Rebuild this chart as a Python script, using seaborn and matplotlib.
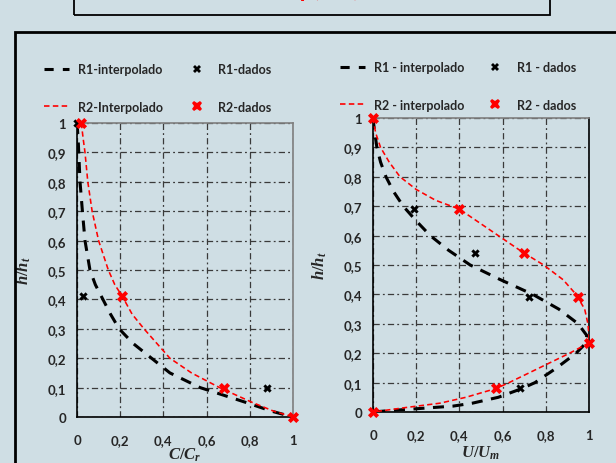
import matplotlib
matplotlib.use("Agg")
import numpy as np
import pandas as pd
import seaborn as sns
import matplotlib.pyplot as plt
from matplotlib.lines import Line2D
from matplotlib.patches import Rectangle
from matplotlib.ticker import FixedLocator, FuncFormatter

# ---------------- data ----------------
# Left panel: concentration profile C/Cr vs h/ht
c_r1_interp_x = [0.0, 0.005, 0.008, 0.014, 0.025, 0.037, 0.06, 0.085, 0.12, 0.155, 0.195, 0.26, 0.345, 0.43, 0.57, 0.78, 0.9, 1.0]
c_r1_interp_h = [1.0, 0.95, 0.9, 0.8, 0.7, 0.6, 0.5, 0.45, 0.4, 0.35, 0.3, 0.25, 0.2, 0.15, 0.1, 0.05, 0.02, 0.0]
c_r2_interp_x = [0.02, 0.028, 0.037, 0.05, 0.07, 0.1, 0.145, 0.175, 0.21, 0.255, 0.31, 0.37, 0.43, 0.53, 0.66, 0.81, 0.91, 1.0]
c_r2_interp_h = [1.0, 0.95, 0.9, 0.8, 0.7, 0.6, 0.5, 0.45, 0.41, 0.35, 0.3, 0.25, 0.2, 0.15, 0.1, 0.05, 0.02, 0.0]
c_r1_data_x = [0.0, 0.03, 0.88, 1.0]
c_r1_data_h = [1.0, 0.41, 0.10, 0.0]
c_r2_data_x = [0.02, 0.21, 0.68, 1.0]
c_r2_data_h = [1.0, 0.41, 0.10, 0.0]

# Right panel: velocity profile U/Um vs h/ht
u_r1_interp_x = [0.0, 0.008, 0.018, 0.035, 0.06, 0.095, 0.14, 0.2, 0.265, 0.35, 0.45, 0.59, 0.74, 0.86, 0.95, 0.99, 0.98, 0.94, 0.85, 0.75, 0.69, 0.58, 0.46, 0.37, 0.18, 0.08, 0.0]
u_r1_interp_h = [1.0, 0.95, 0.9, 0.85, 0.8, 0.75, 0.7, 0.65, 0.6, 0.55, 0.5, 0.45, 0.4, 0.35, 0.3, 0.26, 0.23, 0.2, 0.15, 0.1, 0.08, 0.05, 0.03, 0.02, 0.01, 0.005, 0.0]
u_r2_interp_x = [0.0, 0.012, 0.035, 0.075, 0.125, 0.2, 0.29, 0.40, 0.48, 0.58, 0.69, 0.79, 0.88, 0.94, 0.98, 0.995, 1.0, 1.0, 0.91, 0.77, 0.63, 0.57, 0.43, 0.31, 0.15, 0.0]
u_r2_interp_h = [1.0, 0.95, 0.9, 0.85, 0.8, 0.757, 0.72, 0.69, 0.65, 0.6, 0.545, 0.5, 0.45, 0.4, 0.35, 0.3, 0.26, 0.235, 0.2, 0.15, 0.1, 0.08, 0.05, 0.03, 0.015, 0.0]
u_r1_data_x = [0.0, 0.19, 0.47, 0.72, 1.0, 0.68, 0.0]
u_r1_data_h = [1.0, 0.69, 0.54, 0.39, 0.235, 0.08, 0.0]
u_r2_data_x = [0.0, 0.40, 0.70, 0.95, 1.0, 0.57, 0.0]
u_r2_data_h = [1.0, 0.69, 0.54, 0.39, 0.235, 0.08, 0.0]

x_ticks = [0, 0.2, 0.4, 0.6, 0.8, 1.0]
y_ticks = [0, 0.1, 0.2, 0.3, 0.4, 0.5, 0.6, 0.7, 0.8, 0.9, 1.0]

left_labels = ["R1-interpolado", "R1-dados", "R2-Interpolado", "R2-dados"]
right_labels = ["R1 - interpolado", "R1 - dados", "R2 - interpolado", "R2 - dados"]

# ---------------- style ----------------
sns.set_style("white")
plt.rcParams['font.family'] = ['Lato', 'DejaVu Sans']
plt.rcParams['font.weight'] = 'bold'
plt.rcParams['mathtext.fontset'] = 'custom'
plt.rcParams['mathtext.it'] = 'Liberation Serif:italic:bold'
plt.rcParams['mathtext.rm'] = 'Liberation Serif:bold'
plt.rcParams['mathtext.bf'] = 'Liberation Serif:bold'

BG = '#cfdee4'
BLACK_DASH = (3.6, 2.8)
RED_DASH = (3.3, 2.0)

fig = plt.figure(figsize=(6.16, 4.64), dpi=100, facecolor=BG)

# decorative boxes (cut off by figure edges like in the reference)
fig.add_artist(Rectangle((74 / 616, 1 - 16 / 464), (550 - 74) / 616, 0.2,
                         transform=fig.transFigure, fill=False, lw=1.3, ec='black', clip_on=False))
fig.text(300 / 616, 1 - 3 / 464, r"$C/C_r = f\,(h/h_t)$", color='red', fontsize=16,
         ha='center', va='bottom')
fig.add_artist(Rectangle((15 / 616, -0.1), 1.0, 1.1 - 33 / 464,
                         transform=fig.transFigure, fill=False, lw=2.0, ec='black', clip_on=False))

ax1 = fig.add_axes([77 / 616, 46 / 464, 216 / 616, 294 / 464])
ax2 = fig.add_axes([373 / 616, 51 / 464, 216 / 616, 294 / 464])


def fmt(v, pos=None):
    if abs(v - round(v)) < 1e-9:
        return str(int(round(v)))
    return f"{v:.1f}".replace('.', ',')


def draw(ax, r1x, r1h, r2x, r2h, d1x, d1h, d2x, d2h):
    ax.set_facecolor(BG)
    sns.lineplot(x=r1x, y=r1h, ax=ax, sort=False, estimator=None, color='black',
                 lw=2.2, dashes=False, zorder=3).lines[-1].set_dashes(BLACK_DASH)
    sns.lineplot(x=r2x, y=r2h, ax=ax, sort=False, estimator=None, color='red',
                 lw=1.15, dashes=False, zorder=4).lines[-1].set_dashes(RED_DASH)
    sns.scatterplot(x=d1x, y=d1h, ax=ax, marker='X', s=36, color='black',
                    linewidth=0, zorder=5, clip_on=False)
    sns.scatterplot(x=d2x, y=d2h, ax=ax, marker='X', s=64, color='red',
                    linewidth=0, zorder=6, clip_on=False)
    ax.set_xlim(0, 1)
    ax.set_ylim(0, 1)
    ax.xaxis.set_major_locator(FixedLocator(x_ticks))
    ax.yaxis.set_major_locator(FixedLocator(y_ticks))
    ax.xaxis.set_major_formatter(FuncFormatter(fmt))
    ax.yaxis.set_major_formatter(FuncFormatter(fmt))
    ax.tick_params(length=0, labelsize=9.5)
    ax.tick_params(axis='x', pad=12)
    ax.tick_params(axis='y', pad=8)
    for lab in ax.get_xticklabels() + ax.get_yticklabels():
        lab.set_fontweight('bold')
        lab.set_color('#262626')
    ax.grid(True, color='#3a3a3a', lw=0.9, ls=(0, (5, 2.5, 1.5, 2.5)))
    ax.set_axisbelow(True)
    ax.spines['left'].set_color('black')
    ax.spines['bottom'].set_color('black')
    ax.spines['top'].set_color('#7f7f7f')
    for s in ax.spines.values():
        s.set_linewidth(1.2)
    ax.set_ylabel(r"$h/h_t$", fontsize=12, labelpad=10, color='#262626')


draw(ax1, c_r1_interp_x, c_r1_interp_h, c_r2_interp_x, c_r2_interp_h,
     c_r1_data_x, c_r1_data_h, c_r2_data_x, c_r2_data_h)
draw(ax2, u_r1_interp_x, u_r1_interp_h, u_r2_interp_x, u_r2_interp_h,
     u_r1_data_x, u_r1_data_h, u_r2_data_x, u_r2_data_h)
ax1.spines['right'].set_color('#7f7f7f')
ax2.spines['right'].set_color('black')
ax1.set_xlabel(r"$C/C_r$", fontsize=12, labelpad=0, color='#262626')
ax2.set_xlabel(r"$U/U_m$", fontsize=12, labelpad=2, color='#262626')


def handles():
    h1 = Line2D([], [], color='black', lw=2.2, dashes=(3.0, 3.0))
    h2 = Line2D([], [], color='red', lw=1.2, dashes=(3.3, 2.0))
    m1 = Line2D([], [], color='black', ls='none', marker='X', markersize=6, markeredgewidth=0)
    m2 = Line2D([], [], color='red', ls='none', marker='X', markersize=7.5, markeredgewidth=0)
    return h1, m1, h2, m2


for labels, x0, ytop, cs in ((left_labels, 44, 64, 1.75), (right_labels, 340, 62, 1.5)):
    h1, m1, h2, m2 = handles()
    leg = fig.legend([h1, h2, m1, m2], [labels[0], labels[2], labels[1], labels[3]],
                     ncol=2, loc='upper left', bbox_to_anchor=(x0 / 616, 1 - ytop / 464),
                     frameon=False, borderpad=0, borderaxespad=0, fontsize=9,
                     handlelength=2.0, handletextpad=0.7, labelspacing=2.05, columnspacing=cs)
    for t in leg.get_texts():
        t.set_fontweight('bold')
        t.set_color('#262626')

fig.savefig("out.png", dpi=100, facecolor=BG)
